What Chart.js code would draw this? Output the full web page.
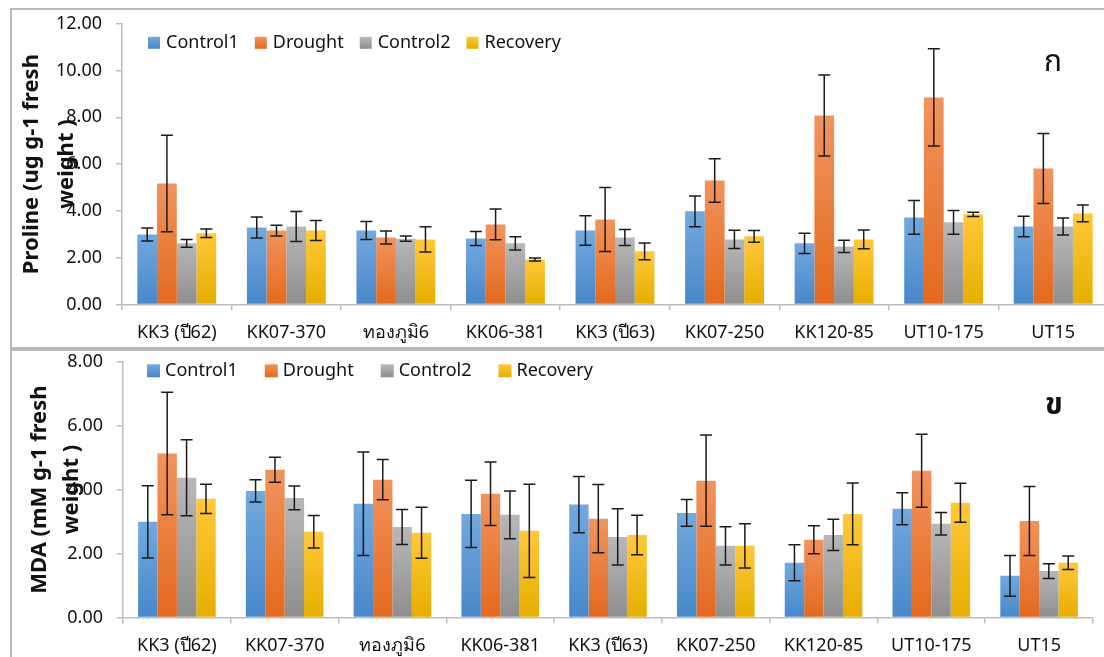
<!DOCTYPE html>
<html>
<head>
<meta charset="utf-8">
<script src="https://cdn.jsdelivr.net/npm/chart.js@4.4.1/dist/chart.umd.min.js"></script>
<style>
  html, body { margin: 0; padding: 0; background: #fff; width: 1104px; height: 657px; overflow: hidden; }
  .panel { position: absolute; left: 10px; width: 1120px; border: 2px solid #b8b8b8; box-sizing: border-box; background: #fff; }
  #panelA { top: 8px; height: 341px; }
  #panelB { top: 349px; height: 330px; }
  canvas { position: absolute; left: 12px; }
  #prolineChart { top: -1px; }
  #mdaChart { top: 337px; }
  .tag { position: absolute; font-family: "Noto Sans Thai", "Noto Sans", sans-serif; font-size: 30px; color: #111; transform: translate(-50%, -50%); }
</style>
</head>
<body>
<div class="panel" id="panelA"></div>
<div class="panel" id="panelB"></div>
<canvas id="prolineChart" width="1100" height="348"></canvas>
<canvas id="mdaChart" width="1090" height="323"></canvas>
<div class="tag" style="left:1053px; top:62px;">ก</div>
<div class="tag" style="left:1054px; top:405px; font-weight:bold;">ข</div>
<script>
const categories = ['KK3 (ปี62)', 'KK07-370', 'ทองภูมิ6', 'KK06-381', 'KK3 (ปี63)', 'KK07-250', 'KK120-85', 'UT10-175', 'UT15']
const seriesNames = ['Control1', 'Drought', 'Control2', 'Recovery']

// proline (ug g-1 fresh weight)
const prolineControl1 = [2.99, 3.29, 3.16, 2.82, 3.16, 3.98, 2.61, 3.72, 3.33]
const prolineDrought = [5.17, 3.16, 2.86, 3.42, 3.63, 5.30, 8.08, 8.85, 5.81]
const prolineControl2 = [2.61, 3.33, 2.81, 2.61, 2.86, 2.78, 2.48, 3.51, 3.33]
const prolineRecovery = [3.04, 3.16, 2.78, 1.92, 2.27, 2.91, 2.78, 3.85, 3.89]
const prolineControl1Err = [0.28, 0.45, 0.38, 0.30, 0.63, 0.66, 0.43, 0.72, 0.44]
const prolineDroughtErr = [2.06, 0.23, 0.28, 0.66, 1.37, 0.93, 1.73, 2.08, 1.50]
const prolineControl2Err = [0.17, 0.64, 0.11, 0.28, 0.34, 0.39, 0.26, 0.51, 0.36]
const prolineRecoveryErr = [0.18, 0.43, 0.54, 0.06, 0.36, 0.25, 0.40, 0.09, 0.36]
const prolineTicks = [0, 2, 4, 6, 8, 10, 12]

// MDA (mM g-1 fresh weight)
const mdaControl1 = [2.99, 3.96, 3.56, 3.24, 3.53, 3.27, 1.71, 3.40, 1.30]
const mdaDrought = [5.13, 4.62, 4.31, 3.87, 3.09, 4.28, 2.43, 4.59, 3.02]
const mdaControl2 = [4.37, 3.74, 2.83, 3.21, 2.52, 2.24, 2.58, 2.93, 1.45]
const mdaRecovery = [3.71, 2.68, 2.65, 2.71, 2.58, 2.24, 3.24, 3.59, 1.71]
const mdaControl1Err = [1.13, 0.35, 1.62, 1.05, 0.88, 0.42, 0.56, 0.50, 0.64]
const mdaDroughtErr = [1.92, 0.39, 0.63, 0.99, 1.07, 1.43, 0.44, 1.14, 1.08]
const mdaControl2Err = [1.19, 0.37, 0.55, 0.75, 0.88, 0.60, 0.49, 0.35, 0.23]
const mdaRecoveryErr = [0.46, 0.51, 0.80, 1.46, 0.62, 0.69, 0.97, 0.61, 0.21]
const mdaTicks = [0, 2, 4, 6, 8]

const palette = [
  { light: '#72a9de', dark: '#4887c9' },
  { light: '#f2935d', dark: '#e3691e' },
  { light: '#b8b8b8', dark: '#8e8e8e' },
  { light: '#ffc83a', dark: '#e6ae00' },
]

const FONT = '"Noto Sans", sans-serif'

function barFill(colors) {
  return (ctx) => {
    const chart = ctx.chart
    if (ctx.type !== 'data' || !chart.chartArea)
      return colors.dark
    const y = chart.scales.y
    const top = y.getPixelForValue(ctx.raw)
    const bottom = y.getPixelForValue(0)
    const g = chart.ctx.createLinearGradient(0, top, 0, bottom)
    g.addColorStop(0, colors.light)
    g.addColorStop(1, colors.dark)
    return g
  }
}

const errorBars = {
  id: 'errorBars',
  afterDatasetsDraw(chart) {
    const { ctx } = chart
    const y = chart.scales.y
    ctx.save()
    ctx.strokeStyle = '#1b1b1b'
    ctx.lineWidth = 1.5
    chart.data.datasets.forEach((ds, i) => {
      const meta = chart.getDatasetMeta(i)
      meta.data.forEach((bar, j) => {
        const v = ds.data[j]
        const e = ds.errors[j]
        const hi = y.getPixelForValue(v + e)
        const lo = y.getPixelForValue(v - e)
        ctx.beginPath()
        ctx.moveTo(bar.x, hi)
        ctx.lineTo(bar.x, lo)
        ctx.moveTo(bar.x - 6, hi)
        ctx.lineTo(bar.x + 6, hi)
        ctx.moveTo(bar.x - 6, lo)
        ctx.lineTo(bar.x + 6, lo)
        ctx.stroke()
      })
    })
    ctx.restore()
  },
}

// one-row legend drawn inside the plot, like the original
const inlineLegend = {
  id: 'inlineLegend',
  afterDraw(chart, args, opts) {
    const { ctx, chartArea } = chart
    ctx.save()
    ctx.font = `${opts.size}px ${FONT}`
    ctx.textBaseline = 'middle'
    let x = chartArea.left + opts.x
    const y = chartArea.top + opts.y
    chart.data.datasets.forEach((ds, i) => {
      const g = ctx.createLinearGradient(0, y - opts.box / 2, 0, y + opts.box / 2)
      g.addColorStop(0, palette[i].light)
      g.addColorStop(1, palette[i].dark)
      ctx.fillStyle = g
      ctx.fillRect(x, y - opts.box / 2, opts.box, opts.box)
      x += opts.box + opts.textGap
      ctx.fillStyle = '#111'
      ctx.fillText(ds.label, x, y)
      x += ctx.measureText(ds.label).width + opts.itemGap
    })
    ctx.restore()
  },
}

function makeChart(id, series, errors, ticks, title, opts) {
  return new Chart(document.getElementById(id), {
    type: 'bar',
    data: {
      labels: categories,
      datasets: series.map((values, i) => ({
        label: seriesNames[i],
        data: values,
        errors: errors[i],
        backgroundColor: barFill(palette[i]),
        borderWidth: 0,
        categoryPercentage: 0.72,
        barPercentage: 1,
      })),
    },
    options: {
      responsive: false,
      animation: false,
      events: [],
      layout: { padding: opts.padding },
      plugins: {
        tooltip: { enabled: false },
        legend: { display: false },
        inlineLegend: opts.legend,
      },
      scales: {
        x: {
          border: { color: '#bdbdbd', width: 1.5 },
          grid: { drawOnChartArea: false, tickLength: 6, color: '#bdbdbd', lineWidth: 1.5 },
          ticks: { font: { family: FONT, size: 18 }, color: '#111', padding: 12, maxRotation: 0 },
        },
        y: {
          min: ticks[0],
          max: ticks[ticks.length - 1],
          afterBuildTicks: scale => { scale.ticks = ticks.map(v => ({ value: v })) },
          afterFit: scale => { scale.width = opts.yWidth },
          border: { color: '#bdbdbd', width: 1.5 },
          grid: { drawOnChartArea: false, tickLength: 6, color: '#bdbdbd', lineWidth: 1.5 },
          ticks: { font: { family: FONT, size: 18 }, color: '#111', padding: 14, callback: v => v.toFixed(2) },
          title: {
            display: true,
            text: title,
            font: { family: FONT, size: 22, weight: 'bold', lineHeight: opts.titleLine },
            color: '#111',
            padding: { top: opts.titlePad, bottom: 0 },
          },
        },
      },
    },
    plugins: [errorBars, inlineLegend],
  })
}

makeChart('prolineChart',
  [prolineControl1, prolineDrought, prolineControl2, prolineRecovery],
  [prolineControl1Err, prolineDroughtErr, prolineControl2Err, prolineRecoveryErr],
  prolineTicks,
  ['Proline (ug g-1 fresh', 'weight )'],
  {
    padding: { top: 0, right: 4, bottom: -9, left: 0 },
    yWidth: 110,
    titleLine: 1.6,
    titlePad: 2,
    legend: { x: 26, y: 19, box: 12, textGap: 6, itemGap: 16, size: 18 },
  })

makeChart('mdaChart',
  [mdaControl1, mdaDrought, mdaControl2, mdaRecovery],
  [mdaControl1Err, mdaDroughtErr, mdaControl2Err, mdaRecoveryErr],
  mdaTicks,
  ['MDA (mM g-1 fresh', 'weight )'],
  {
    padding: { top: 0, right: 9, bottom: -9, left: 0 },
    yWidth: 111,
    titleLine: 1.45,
    titlePad: 12,
    legend: { x: 24, y: 9, box: 13, textGap: 5, itemGap: 27, size: 18 },
  })
</script>
</body>
</html>
